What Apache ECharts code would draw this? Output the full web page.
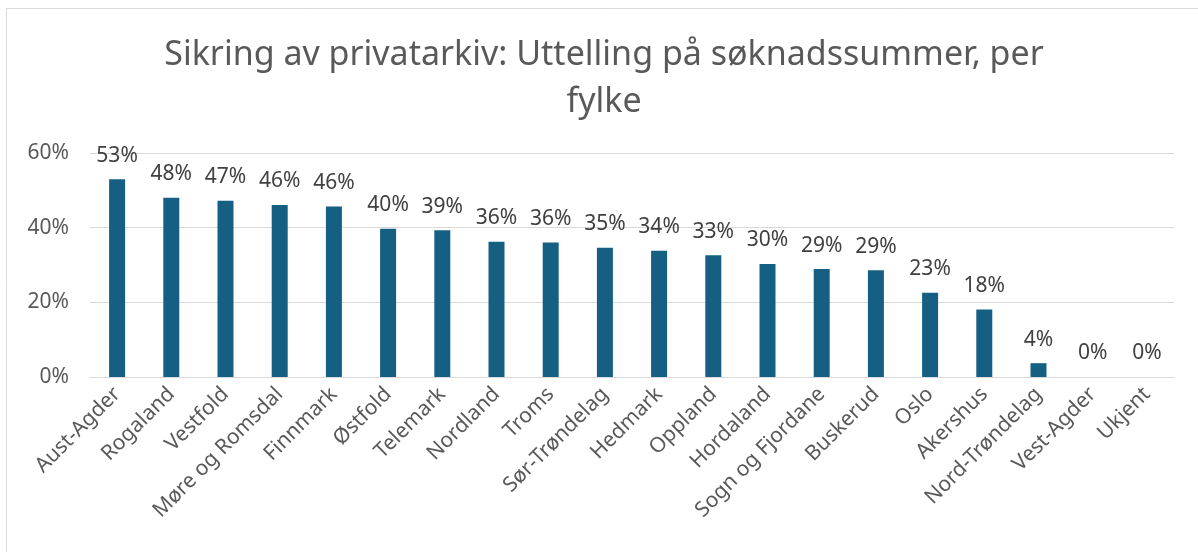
<!DOCTYPE html>
<html>
<head>
<meta charset="utf-8">
<script src="https://cdn.jsdelivr.net/npm/echarts@6/dist/echarts.min.js"></script>
<style>
  html, body { margin: 0; padding: 0; background: #fff; }
  #chart { width: 1198px; height: 552px; }
</style>
</head>
<body>
<div id="chart"></div>
<script>
// fylker, sortert etter andel
const fylker = ['Aust-Agder', 'Rogaland', 'Vestfold', 'Møre og Romsdal', 'Finnmark', 'Østfold',
  'Telemark', 'Nordland', 'Troms', 'Sør-Trøndelag', 'Hedmark', 'Oppland', 'Hordaland',
  'Sogn og Fjordane', 'Buskerud', 'Oslo', 'Akershus', 'Nord-Trøndelag', 'Vest-Agder', 'Ukjent']
// uttelling i prosent
const uttelling = [53.0, 48.0, 47.2, 46.1, 45.7, 39.7, 39.3, 36.2, 36.0, 34.6,
  33.8, 32.6, 30.3, 28.9, 28.6, 22.6, 18.1, 3.7, 0, 0]
const yTicks = [0, 20, 40, 60]

const font = 'Noto Sans'
const grey = '#595959'

const myChart = echarts.init(document.getElementById('chart'))
myChart.setOption({
  animation: false,
  title: {
    text: 'Sikring av privatarkiv: Uttelling på søknadssummer, per\nfylke',
    left: 599,
    textAlign: 'center',
    top: 27,
    textStyle: {
      color: grey,
      fontSize: 34,
      fontWeight: 'normal',
      fontFamily: font,
      lineHeight: 47,
    },
  },
  graphic: [
    {
      type: 'rect',
      shape: { x: 6.5, y: 8.5, width: 1300, height: 700 },
      style: { fill: 'none', stroke: '#d9d9d9', lineWidth: 1 },
      silent: true,
    },
  ],
  grid: {
    left: 90,
    right: 24,
    top: 153,
    bottom: 175,
  },
  xAxis: {
    type: 'category',
    data: fylker,
    axisLine: { lineStyle: { color: '#d9d9d9' } },
    axisTick: { show: false },
    axisLabel: {
      rotate: 45,
      interval: 0,
      margin: 14,
      color: grey,
      fontSize: 21,
      fontFamily: font,
    },
  },
  yAxis: {
    type: 'value',
    min: yTicks[0],
    max: yTicks[yTicks.length - 1],
    interval: 20,
    axisLine: { show: false },
    axisTick: { show: false },
    splitLine: { lineStyle: { color: '#d9d9d9', width: 1 } },
    axisLabel: {
      margin: 21,
      color: grey,
      fontSize: 21,
      fontFamily: font,
      formatter: (v) => v + '%',
    },
  },
  series: [
    {
      type: 'bar',
      data: uttelling,
      barWidth: 16,
      itemStyle: { color: '#156082' },
      label: {
        show: true,
        position: 'top',
        distance: 13,
        color: '#404040',
        fontSize: 21,
        fontFamily: font,
        formatter: (p) => Math.round(p.value) + '%',
      },
    },
  ],
})
</script>
</body>
</html>
